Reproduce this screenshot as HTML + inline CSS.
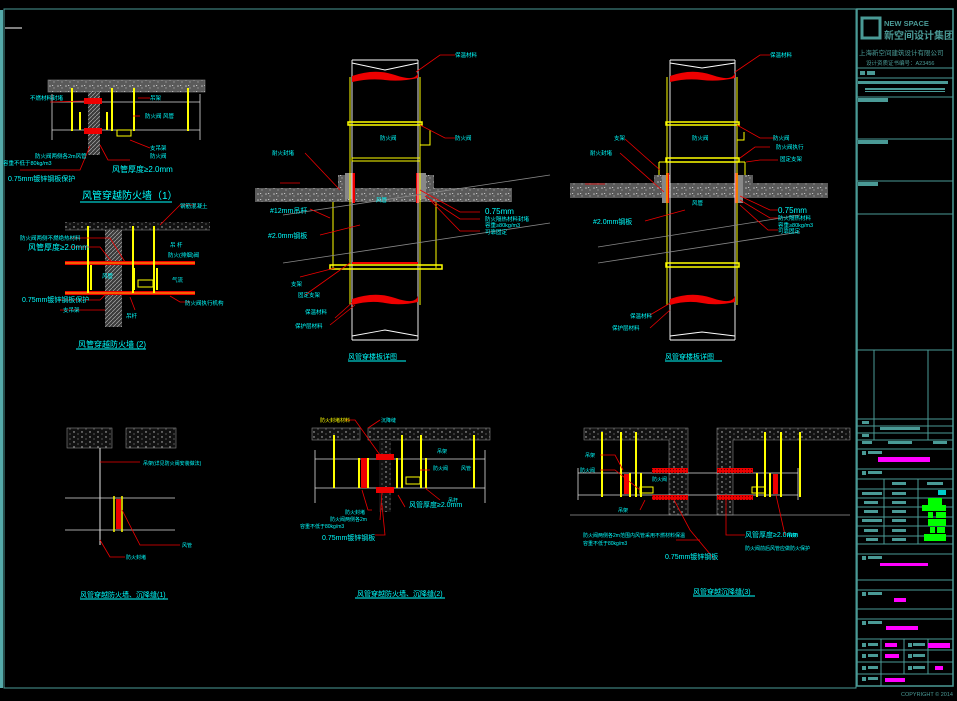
<!DOCTYPE html>
<html><head><meta charset="utf-8"><style>
html,body{margin:0;padding:0;background:#000;width:957px;height:701px;overflow:hidden}
svg{display:block}
text{font-family:"Liberation Sans","Noto Sans CJK SC",sans-serif}
</style></head><body>
<svg width="957" height="701" viewBox="0 0 957 701" xmlns="http://www.w3.org/2000/svg">
<defs>
<pattern id="conc" width="8" height="6" patternUnits="userSpaceOnUse">
<rect width="8" height="6" fill="#5a5a5a"/><circle cx="2" cy="2" r="0.8" fill="#bbb"/><circle cx="6" cy="4" r="0.7" fill="#999"/><rect x="4" y="1" width="1.2" height="0.8" fill="#ddd"/>
</pattern>
<pattern id="dots" width="8" height="5" patternUnits="userSpaceOnUse">
<rect width="8" height="5" fill="#111"/><circle cx="2" cy="2" r="0.7" fill="#ccc"/><circle cx="6" cy="4" r="0.6" fill="#888"/>
</pattern>
<pattern id="hatch" width="4" height="4" patternUnits="userSpaceOnUse">
<rect width="4" height="4" fill="#3a3a3a"/><path d="M0,4 L4,0" stroke="#aaa" stroke-width="0.7"/>
</pattern>
<pattern id="redh" width="3" height="3" patternUnits="userSpaceOnUse">
<rect width="3" height="3" fill="#e00"/><circle cx="1.5" cy="1.5" r="0.6" fill="#600"/>
</pattern>
</defs>
<rect width="957" height="701" fill="#000"/>
<!-- frame -->
<rect x="0" y="10" width="3" height="678" fill="#5aa"/>
<rect x="4" y="9" width="852" height="679" fill="none" stroke="#4a9a96" stroke-width="1"/>
<rect x="857" y="9" width="96" height="677" fill="none" stroke="#4a9a96" stroke-width="1.5"/>
<line x1="5" y1="28" x2="22" y2="28" stroke="#fff" stroke-width="1"/>

<!-- title block -->
<g stroke="#4a9a96" stroke-width="1" fill="none">
<rect x="862" y="18" width="18" height="20" stroke-width="3"/>
<line x1="857" y1="68" x2="953" y2="68"/><line x1="857" y1="78" x2="953" y2="78"/>
<line x1="857" y1="97" x2="953" y2="97"/><line x1="857" y1="139" x2="953" y2="139"/>
<line x1="857" y1="181" x2="953" y2="181"/><line x1="857" y1="214" x2="953" y2="214"/>
<line x1="857" y1="350" x2="953" y2="350"/>
<line x1="857" y1="419" x2="953" y2="419"/><line x1="857" y1="426" x2="953" y2="426"/>
<line x1="857" y1="433" x2="953" y2="433"/><line x1="857" y1="440" x2="953" y2="440"/>
<line x1="874" y1="350" x2="874" y2="440"/><line x1="928" y1="350" x2="928" y2="440"/>
<line x1="857" y1="449" x2="953" y2="449"/><line x1="857" y1="469" x2="953" y2="469"/>
<line x1="857" y1="479" x2="953" y2="479"/><line x1="857" y1="489" x2="953" y2="489"/>
<line x1="857" y1="498" x2="953" y2="498"/><line x1="857" y1="507" x2="953" y2="507"/>
<line x1="857" y1="517" x2="953" y2="517"/><line x1="857" y1="526" x2="953" y2="526"/>
<line x1="857" y1="536" x2="953" y2="536"/><line x1="857" y1="544" x2="953" y2="544"/>
<line x1="884" y1="479" x2="884" y2="544"/><line x1="918" y1="479" x2="918" y2="544"/>
<line x1="857" y1="554" x2="953" y2="554"/><line x1="857" y1="580" x2="953" y2="580"/>
<line x1="857" y1="590" x2="953" y2="590"/><line x1="857" y1="609" x2="953" y2="609"/>
<line x1="857" y1="619" x2="953" y2="619"/><line x1="857" y1="639" x2="953" y2="639"/>
<line x1="857" y1="650" x2="953" y2="650"/><line x1="857" y1="662" x2="953" y2="662"/>
<line x1="857" y1="674" x2="953" y2="674"/>
<line x1="881" y1="639" x2="881" y2="686"/><line x1="904" y1="639" x2="904" y2="674"/><line x1="928" y1="639" x2="928" y2="674"/>
</g>
<g fill="#4a9a96">
<text x="884" y="26" font-size="7.5" font-weight="bold">NEW SPACE</text>
<text x="884" y="39" font-size="10" font-weight="bold">新空间设计集团</text>
<text x="859" y="55" font-size="6.5">上海新空间建筑设计有限公司</text>
<text x="866" y="65" font-size="5.5">设计资质证书编号：A23456</text>
<rect x="860" y="71" width="5" height="4"/><rect x="867" y="71" width="8" height="4"/>
<rect x="858" y="81" width="90" height="3"/><rect x="865" y="88" width="80" height="2"/><rect x="865" y="91" width="80" height="1"/>
<rect x="858" y="98" width="30" height="4"/><rect x="858" y="140" width="30" height="4"/><rect x="858" y="182" width="20" height="4"/>
<rect x="862" y="421" width="7" height="3"/><rect x="880" y="427" width="40" height="3"/><rect x="862" y="434" width="7" height="3"/><rect x="862" y="441" width="10" height="3"/><rect x="888" y="441" width="24" height="3"/><rect x="933" y="441" width="14" height="3"/>
<rect x="862" y="451" width="4" height="4"/><rect x="868" y="451" width="14" height="3"/>
<rect x="862" y="471" width="4" height="4"/><rect x="868" y="471" width="14" height="3"/>
<rect x="892" y="482" width="14" height="3"/><rect x="927" y="482" width="16" height="3"/>
<rect x="862" y="492" width="20" height="3"/><rect x="892" y="492" width="14" height="3"/>
<rect x="864" y="501" width="14" height="3"/><rect x="892" y="501" width="14" height="3"/>
<rect x="864" y="510" width="14" height="3"/><rect x="892" y="510" width="14" height="3"/>
<rect x="862" y="519" width="20" height="3"/><rect x="892" y="519" width="14" height="3"/>
<rect x="864" y="529" width="14" height="3"/><rect x="892" y="529" width="14" height="3"/>
<rect x="866" y="538" width="12" height="3"/><rect x="892" y="538" width="14" height="3"/>
<rect x="862" y="556" width="4" height="4"/><rect x="868" y="556" width="14" height="3"/>
<rect x="862" y="592" width="4" height="4"/><rect x="868" y="592" width="14" height="3"/>
<rect x="862" y="621" width="4" height="4"/><rect x="868" y="621" width="14" height="3"/>
<rect x="862" y="643" width="4" height="4"/><rect x="868" y="643" width="10" height="3"/><rect x="908" y="643" width="4" height="4"/><rect x="913" y="643" width="12" height="3"/>
<rect x="862" y="654" width="4" height="4"/><rect x="868" y="654" width="10" height="3"/><rect x="908" y="654" width="4" height="4"/><rect x="913" y="654" width="12" height="3"/>
<rect x="862" y="666" width="4" height="4"/><rect x="868" y="666" width="10" height="3"/><rect x="908" y="666" width="4" height="4"/><rect x="913" y="666" width="12" height="3"/>
<rect x="862" y="677" width="4" height="4"/><rect x="868" y="677" width="10" height="3"/>
<text x="901" y="696" font-size="5.5">COPYRIGHT © 2014</text>
</g>
<rect x="938" y="490" width="8" height="5" fill="#0cc"/>
<g fill="#f0f">
<rect x="878" y="457" width="52" height="5"/><rect x="880" y="563" width="48" height="3"/><rect x="894" y="598" width="12" height="4"/>
<rect x="886" y="626" width="32" height="4"/><rect x="885" y="643" width="12" height="4"/><rect x="928" y="643" width="22" height="5"/>
<rect x="885" y="654" width="14" height="4"/><rect x="935" y="666" width="8" height="4"/><rect x="885" y="678" width="20" height="4"/>
</g>
<g fill="#0f0"><rect x="928" y="498" width="14" height="7"/><rect x="922" y="505" width="24" height="6"/><rect x="928" y="512" width="5" height="6"/><rect x="936" y="512" width="10" height="6"/><rect x="928" y="519" width="18" height="7"/><rect x="930" y="527" width="5" height="6"/><rect x="937" y="527" width="8" height="6"/><rect x="924" y="534" width="22" height="7"/></g>

<!-- ============ Detail 1 ============ -->
<rect x="48" y="80" width="157" height="12" fill="url(#conc)" stroke="#888" stroke-width="0.6"/>
<rect x="88" y="92" width="12" height="63" fill="url(#hatch)"/>
<g stroke="#ddd" stroke-width="0.8"><line x1="52" y1="102" x2="200" y2="102"/><line x1="52" y1="130" x2="200" y2="130"/><line x1="52" y1="94" x2="52" y2="140"/><line x1="200" y1="94" x2="200" y2="140"/></g>
<g stroke="#ff0" stroke-width="2"><line x1="72" y1="88" x2="72" y2="131"/><line x1="112" y1="88" x2="112" y2="131"/><line x1="134" y1="88" x2="134" y2="131"/><line x1="188" y1="88" x2="188" y2="131"/><line x1="80" y1="112" x2="80" y2="130"/><line x1="107" y1="112" x2="107" y2="130"/></g>
<rect x="117" y="130" width="14" height="6" fill="none" stroke="#ff0"/>
<rect x="84" y="98" width="18" height="6" fill="#e00"/><rect x="84" y="128" width="18" height="6" fill="#e00"/>
<g stroke="#e00" stroke-width="0.8" fill="none"><path d="M50,102 L84,101"/><path d="M138,98 L150,98"/><path d="M130,140 L150,148"/><path d="M90,146 L80,170 L20,170"/><path d="M100,145 L108,160 L130,160"/><path d="M133,116 L140,116"/></g>
<g fill="#0ff" font-size="5.5">
<text x="30" y="100">不燃材料封堵</text><text x="150" y="100">吊架</text><text x="145" y="118">防火阀 风管</text><text x="150" y="150">支吊架</text><text x="150" y="158">防火阀</text>
<text x="35" y="158">防火阀两侧各2m风管</text><text x="3" y="165">容重不低于80kg/m3</text><text x="112" y="172" font-size="8">风管厚度≥2.0mm</text>
<text x="8" y="181" font-size="7">0.75mm镀锌钢板保护</text>
<text x="82" y="199" font-size="10">风管穿越防火墙（1）</text></g>
<line x1="80" y1="202" x2="172" y2="202" stroke="#0ff"/>

<!-- ============ Detail 2 ============ -->
<rect x="65" y="222" width="145" height="8" fill="url(#dots)"/>
<line x1="65" y1="230" x2="210" y2="230" stroke="#999" stroke-width="0.6"/>
<rect x="105" y="230" width="17" height="97" fill="url(#hatch)"/>
<rect x="65" y="261" width="130" height="4" fill="#e00"/><rect x="65" y="291" width="130" height="4" fill="#e00"/>
<line x1="65" y1="263" x2="195" y2="263" stroke="#ff0" stroke-width="0.8"/><line x1="65" y1="293" x2="195" y2="293" stroke="#ff0" stroke-width="0.8"/>
<g stroke="#ff0" stroke-width="2"><line x1="88" y1="226" x2="88" y2="293"/><line x1="133" y1="226" x2="133" y2="293"/><line x1="154" y1="226" x2="154" y2="293"/><line x1="91" y1="265" x2="91" y2="290"/><line x1="134" y1="268" x2="134" y2="290"/><line x1="157" y1="268" x2="157" y2="290"/></g>
<rect x="138" y="280" width="15" height="7" fill="none" stroke="#ff0"/>
<g stroke="#e00" stroke-width="0.8" fill="none"><path d="M160,225 L180,205 L195,205"/><path d="M70,238 L110,238 L125,262"/><path d="M70,247 L100,247 L112,262"/><path d="M60,300 L100,300 L105,295"/><path d="M60,310 L105,310"/><path d="M170,296 L180,302 L190,302"/><path d="M130,297 L135,310"/></g>
<g fill="#0ff" font-size="5.5">
<text x="180" y="208">钢筋混凝土</text><text x="20" y="240">防火阀两侧不燃绝热材料</text><text x="28" y="250" font-size="8">风管厚度≥2.0mm</text>
<text x="170" y="247">吊 杆</text><text x="168" y="257">防火(排烟)阀</text><text x="172" y="282">气流</text><text x="102" y="278">风管</text>
<text x="22" y="302" font-size="7">0.75mm镀锌钢板保护</text><text x="63" y="312">支吊架</text><text x="126" y="318">吊杆</text><text x="185" y="305">防火阀执行机构</text>
<text x="78" y="347" font-size="8">风管穿越防火墙 (2)</text></g>
<line x1="76" y1="349" x2="146" y2="349" stroke="#0ff"/>

<!-- ============ Detail 3 ============ -->
<g>
<rect x="255" y="188" width="257" height="14" fill="url(#conc)"/>
<rect x="338" y="175" width="16" height="27" fill="url(#conc)"/><rect x="418" y="175" width="16" height="27" fill="url(#conc)"/>
<rect x="345" y="173" width="8" height="26" fill="#888"/><rect x="418" y="173" width="8" height="26" fill="#888"/>
<rect x="352" y="173" width="3" height="30" fill="#e00"/><rect x="416" y="173" width="3" height="30" fill="#e00"/>
<g stroke="#fff" stroke-width="0.9" fill="none"><path d="M352,60 L352,340 M418,60 L418,340"/><path d="M352,60 L418,60 M352,340 L418,340 M352,63 L385,70 L418,63 M352,336 L385,330 L418,336"/></g>
<g stroke="#ff0" stroke-width="1" fill="none"><path d="M350,77 L350,305 M420,77 L420,305"/>
<rect x="348" y="122" width="74" height="3" stroke-width="1.5"/><rect x="352" y="158" width="68" height="3"/><rect x="330" y="265" width="112" height="4" stroke-width="1.5"/>
<path d="M333,202 L333,268 M436,202 L436,268"/><path d="M420,145 L430,145 L430,130"/></g>
<path d="M352,76 Q375,68 395,75 T418,73 L418,78 Q400,82 385,80 T352,82Z" fill="#e00"/>
<path d="M352,299 Q375,291 395,298 T418,296 L418,302 Q400,306 385,303 T352,305Z" fill="#e00"/>
<rect x="352" y="262" width="66" height="2" fill="#e00"/>
<g stroke="#888" stroke-width="0.8"><line x1="283" y1="215" x2="550" y2="175"/><line x1="283" y1="263" x2="550" y2="223"/></g>
<g stroke="#e00" stroke-width="0.8" fill="none"><path d="M416,72 L440,55 L455,55"/><path d="M420,125 L445,138 L455,138"/><path d="M305,153 L340,190"/><path d="M310,209 L330,218"/><path d="M320,235 L360,225"/><path d="M300,277 L335,268"/><path d="M305,295 L350,263"/><path d="M335,318 L355,300"/><path d="M330,325 L355,305"/><path d="M420,190 L460,212 L480,212"/><path d="M425,196 L460,219 L480,219"/><path d="M430,200 L460,231 L480,231"/><path d="M280,183 L300,183"/></g>
<g fill="#0ff" font-size="5.5">
<text x="455" y="57">保温材料</text><text x="455" y="140">防火阀</text><text x="380" y="140">防火阀</text><text x="272" y="155">耐火封堵</text>
<text x="376" y="202">风管</text><text x="270" y="213" font-size="7">#12mm吊杆</text><text x="268" y="238" font-size="7">#2.0mm钢板</text>
<text x="291" y="286">支架</text><text x="298" y="297">固定支架</text><text x="305" y="314">保温材料</text><text x="295" y="328">保护层材料</text>
<text x="485" y="214" font-size="8">0.75mm</text><text x="485" y="221">防火隔热材料封堵</text><text x="485" y="227">容重≥80kg/m3</text><text x="485" y="234">可靠固定</text>
<text x="348" y="359" font-size="7">风管穿楼板详图</text></g>
<line x1="348" y1="361" x2="406" y2="361" stroke="#0ff"/>
</g>

<!-- ============ Detail 4 ============ -->
<g>
<rect x="570" y="183" width="258" height="15" fill="url(#conc)"/>
<rect x="654" y="175" width="16" height="23" fill="url(#conc)"/><rect x="737" y="175" width="16" height="23" fill="url(#conc)"/>
<rect x="662" y="175" width="6" height="28" fill="#888"/><rect x="737" y="175" width="6" height="28" fill="#888"/>
<rect x="666" y="173" width="3" height="30" fill="#e00"/><rect x="735" y="173" width="3" height="30" fill="#e00"/>
<g stroke="#fff" stroke-width="0.9" fill="none"><path d="M670,60 L670,340 M735,60 L735,340"/><path d="M670,60 L735,60 M670,340 L735,340 M670,63 L702,68 L735,63 M670,336 L702,332 L735,336"/></g>
<g stroke="#ff0" stroke-width="1" fill="none"><path d="M667,77 L667,305 M737,77 L737,305"/>
<rect x="666" y="122" width="73" height="3" stroke-width="1.5"/><rect x="666" y="158" width="73" height="4" stroke-width="1.5"/><rect x="666" y="263" width="73" height="4" stroke-width="1.5"/>
<path d="M659,162 L659,175 M745,162 L745,175 M659,162 L670,162 M735,162 L745,162"/><path d="M737,140 L744,140 L744,132"/></g>
<path d="M670,76 Q692,68 712,75 T735,73 L735,78 Q717,82 702,80 T670,82Z" fill="#e00"/>
<path d="M670,299 Q692,291 712,298 T735,296 L735,302 Q717,306 702,303 T670,305Z" fill="#e00"/>
<g stroke="#888" stroke-width="0.8"><line x1="598" y1="247" x2="800" y2="215"/><line x1="598" y1="263" x2="800" y2="232"/></g>
<g stroke="#e00" stroke-width="0.8" fill="none"><path d="M735,72 L760,55 L770,55"/><path d="M737,125 L760,138 L775,138"/><path d="M625,139 L660,170"/><path d="M620,153 L664,192"/><path d="M645,221 L685,210"/><path d="M650,315 L672,302"/><path d="M650,328 L670,310"/><path d="M740,196 L770,210 L778,210"/><path d="M740,200 L770,218 L778,218"/><path d="M740,205 L768,230 L778,230"/><path d="M740,158 L755,147 L770,147"/><path d="M746,162 L760,160 L778,160"/><path d="M585,184 L605,184"/></g>
<g fill="#0ff" font-size="5.5">
<text x="770" y="57">保温材料</text><text x="773" y="140">防火阀</text><text x="776" y="149">防火阀执行</text><text x="780" y="161">固定支架</text>
<text x="614" y="140">支架</text><text x="590" y="155">耐火封堵</text><text x="692" y="140">防火阀</text><text x="692" y="205">风管</text>
<text x="593" y="224" font-size="7">#2.0mm钢板</text><text x="630" y="318">保温材料</text><text x="612" y="330">保护层材料</text>
<text x="778" y="213" font-size="8">0.75mm</text><text x="778" y="220">防火隔热材料</text><text x="778" y="227">容重≥80kg/m3</text><text x="778" y="233">可靠固定</text>
<text x="665" y="359" font-size="7">风管穿楼板详图</text></g>
<line x1="665" y1="361" x2="722" y2="361" stroke="#0ff"/>
</g>

<!-- ============ Detail 5 ============ -->
<rect x="67" y="428" width="45" height="20" fill="url(#dots)" stroke="#888" stroke-width="0.6"/>
<rect x="126" y="428" width="50" height="20" fill="url(#dots)" stroke="#888" stroke-width="0.6"/>
<line x1="100" y1="448" x2="100" y2="545" stroke="#fff" stroke-width="0.9"/>
<g stroke="#ddd" stroke-width="0.8"><line x1="65" y1="498" x2="175" y2="498"/><line x1="65" y1="530" x2="175" y2="530"/></g>
<g stroke="#ff0" stroke-width="1.5"><line x1="114" y1="496" x2="114" y2="532"/><line x1="122" y1="496" x2="122" y2="532"/></g>
<rect x="116" y="499" width="5" height="30" fill="#e00"/>
<g stroke="#e00" stroke-width="0.8" fill="none"><path d="M100,462 L140,462"/><path d="M122,510 L140,545 L180,545"/><path d="M100,540 L110,557 L125,557"/></g>
<g fill="#0ff" font-size="5">
<text x="143" y="465">吊架(详见防火阀安装做法)</text><text x="182" y="547">风管</text><text x="126" y="559">防火封堵</text>
<text x="80" y="597" font-size="7">风管穿越防火墙、沉降缝(1)</text></g>
<line x1="80" y1="599" x2="168" y2="599" stroke="#0ff"/>

<!-- ============ Detail 6 ============ -->
<rect x="312" y="428" width="48" height="12" fill="url(#dots)" stroke="#888" stroke-width="0.6"/>
<rect x="368" y="428" width="122" height="12" fill="url(#dots)" stroke="#888" stroke-width="0.6"/>
<rect x="379" y="440" width="12" height="72" fill="url(#dots)"/>
<g stroke="#ddd" stroke-width="0.8"><line x1="315" y1="459" x2="485" y2="459"/><line x1="315" y1="488" x2="485" y2="488"/><line x1="315" y1="450" x2="315" y2="503"/><line x1="485" y1="450" x2="485" y2="503"/></g>
<rect x="376" y="454" width="18" height="6" fill="#e00"/><rect x="376" y="487" width="18" height="6" fill="#e00"/>
<rect x="361" y="458" width="6" height="30" fill="#e00"/>
<g stroke="#ff0" stroke-width="2"><line x1="334" y1="435" x2="334" y2="488"/><line x1="402" y1="435" x2="402" y2="488"/><line x1="421" y1="435" x2="421" y2="488"/><line x1="474" y1="435" x2="474" y2="488"/><line x1="359" y1="458" x2="359" y2="488"/><line x1="368" y1="458" x2="368" y2="488"/><line x1="397" y1="458" x2="397" y2="488"/><line x1="426" y1="458" x2="426" y2="488"/></g>
<rect x="406" y="477" width="14" height="7" fill="none" stroke="#ff0"/>
<g stroke="#e00" stroke-width="0.8" fill="none"><path d="M345,420 L355,420 L380,455"/><path d="M380,420 L368,428"/><path d="M362,490 L368,510 L372,510"/><path d="M382,492 L380,520"/><path d="M420,470 L430,470"/><path d="M425,488 L440,500"/><path d="M398,495 L405,507"/><path d="M375,535 L385,535 L382,505"/></g>
<g fill="#0ff" font-size="5">
<text x="320" y="422" fill="#ff0">防火封堵材料</text><text x="381" y="422">沉降缝</text><text x="437" y="453">吊架</text><text x="433" y="470">防火阀</text>
<text x="461" y="470">风管</text><text x="448" y="502">吊杆</text><text x="345" y="514">防火封堵</text>
<text x="330" y="521">防火阀两侧各2m</text><text x="300" y="528">容重不低于80kg/m3</text><text x="409" y="507" font-size="7">风管厚度≥2.0mm</text>
<text x="322" y="540" font-size="7">0.75mm镀锌钢板</text>
<text x="357" y="596" font-size="7">风管穿越防火墙、沉降缝(2)</text></g>
<line x1="355" y1="598" x2="445" y2="598" stroke="#0ff"/>

<!-- ============ Detail 7 ============ -->
<path d="M584,428 L688,428 L688,515 L669,515 L669,440 L584,440Z" fill="url(#dots)" stroke="#888" stroke-width="0.6"/>
<path d="M717,428 L850,428 L850,440 L733,440 L733,515 L717,515Z" fill="url(#dots)" stroke="#888" stroke-width="0.6"/>
<line x1="570" y1="515" x2="850" y2="515" stroke="#999" stroke-width="0.7"/>
<g stroke="#ddd" stroke-width="0.8"><line x1="578" y1="473" x2="798" y2="473"/><line x1="578" y1="495" x2="798" y2="495"/><line x1="578" y1="468" x2="578" y2="500"/><line x1="798" y1="468" x2="798" y2="500"/></g>
<rect x="652" y="468" width="36" height="5" fill="url(#redh)"/><rect x="717" y="468" width="36" height="5" fill="url(#redh)"/>
<rect x="652" y="495" width="36" height="5" fill="url(#redh)"/><rect x="717" y="495" width="36" height="5" fill="url(#redh)"/>
<g stroke="#ff0" stroke-width="2"><line x1="602" y1="432" x2="602" y2="497"/><line x1="621" y1="432" x2="621" y2="497"/><line x1="636" y1="432" x2="636" y2="497"/><line x1="765" y1="432" x2="765" y2="497"/><line x1="781" y1="432" x2="781" y2="497"/><line x1="800" y1="432" x2="800" y2="497"/><line x1="630" y1="473" x2="630" y2="497"/><line x1="641" y1="473" x2="641" y2="497"/><line x1="757" y1="473" x2="757" y2="497"/><line x1="770" y1="473" x2="770" y2="497"/></g>
<rect x="624" y="474" width="5" height="20" fill="#e00"/><rect x="773" y="474" width="5" height="20" fill="#e00"/>
<rect x="640" y="487" width="13" height="6" fill="none" stroke="#ff0"/><rect x="752" y="487" width="13" height="6" fill="none" stroke="#ff0"/>
<g stroke="#e00" stroke-width="0.8" fill="none"><path d="M600,455 L615,455 L623,470"/><path d="M600,470 L615,470 L640,490"/><path d="M640,510 L645,500"/><path d="M673,498 L690,530 L715,560"/><path d="M726,494 L726,535 L745,535"/><path d="M776,495 L785,535"/><path d="M700,540 L676,540"/></g>
<g fill="#0ff" font-size="5">
<text x="585" y="457">吊架</text><text x="580" y="472">防火阀</text><text x="618" y="512">吊架</text><text x="652" y="481">防火阀</text>
<text x="583" y="537">防火阀两侧各2m范围内风管采用不燃材料保温</text><text x="583" y="545">容重不低于80kg/m3</text>
<text x="745" y="537" font-size="7">风管厚度≥2.0mm</text><text x="787" y="537">吊架</text>
<text x="665" y="559" font-size="7">0.75mm镀锌钢板</text><text x="745" y="550">防火阀前后风管应做防火保护</text>
<text x="693" y="594" font-size="7">风管穿越沉降缝(3)</text></g>
<line x1="693" y1="596" x2="755" y2="596" stroke="#0ff"/>
</svg>
</body></html>
